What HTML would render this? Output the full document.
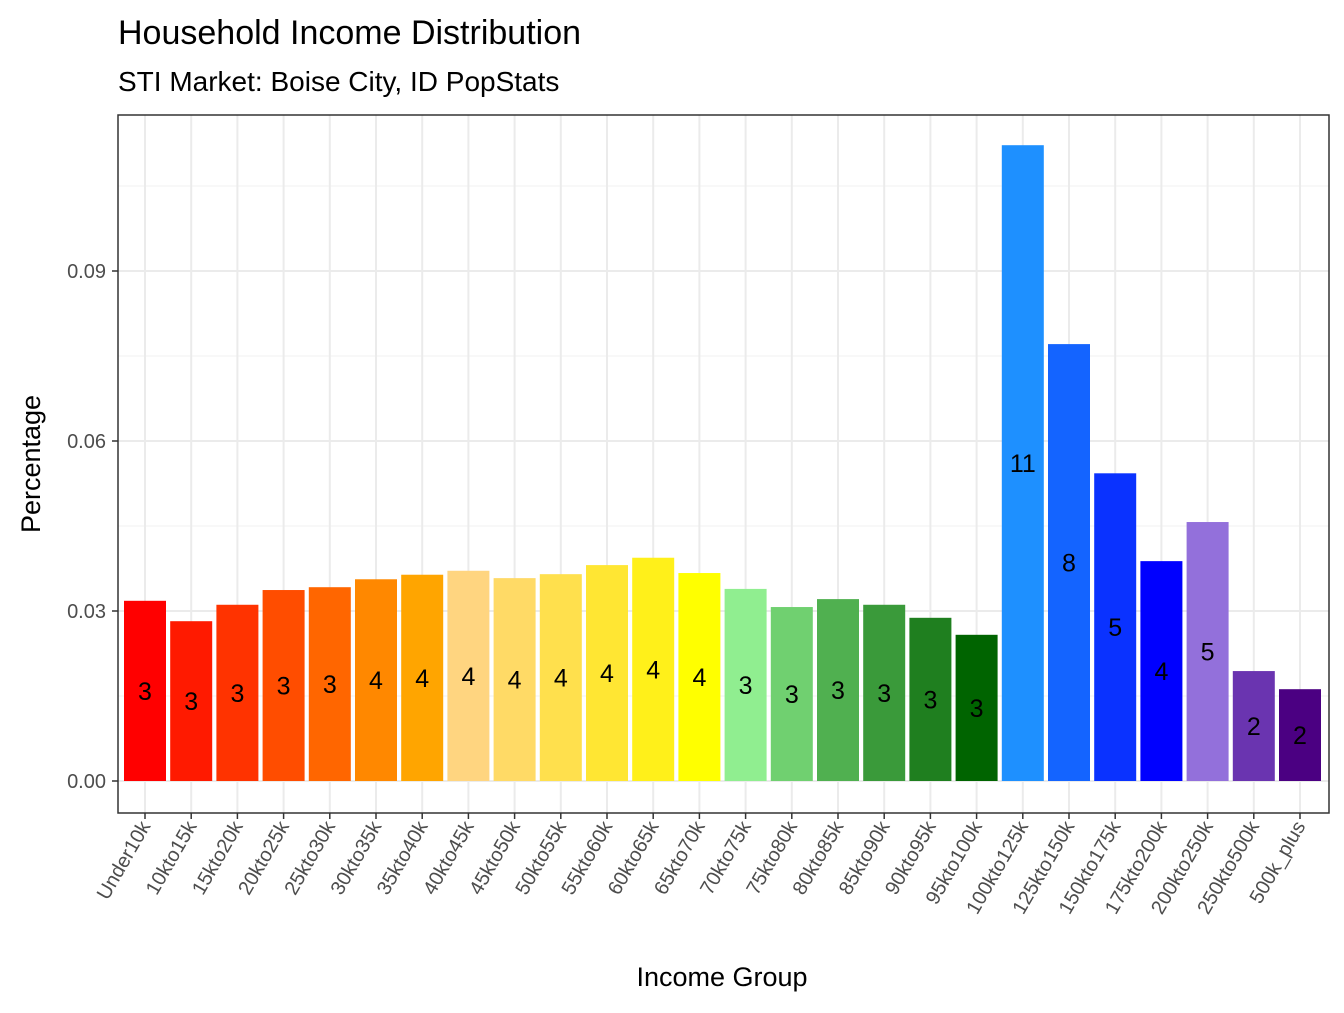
<!DOCTYPE html>
<html><head><meta charset="utf-8"><style>
body{margin:0;background:#fff;font-family:"Liberation Sans",Arial,sans-serif}
svg text{font-family:"Liberation Sans",Arial,sans-serif}
</style></head><body>
<svg id="chart" width="1344" height="1008" viewBox="0 0 1344 1008">
<rect width="1344" height="1008" fill="#fff"/>
<text x="118" y="44" font-size="34" fill="#000">Household Income Distribution</text>
<text x="118" y="91" font-size="28" fill="#000">STI Market: Boise City, ID PopStats</text>
<g id="grid"></g>
<g id="bars"></g>
<g id="labels"></g>
<rect x="118" y="115" width="1211" height="698" fill="none" stroke="#333" stroke-width="1.5"/>
<g id="axes"></g>
<text x="722" y="986" font-size="27" text-anchor="middle" fill="#000">Income Group</text>
<text transform="translate(40,464) rotate(-90)" font-size="27" text-anchor="middle" fill="#000">Percentage</text>
</svg>
<script>
const categories=["Under10k","10kto15k","15kto20k","20kto25k","25kto30k","30kto35k","35kto40k","40kto45k","45kto50k","50kto55k","55kto60k","60kto65k","65kto70k","70kto75k","75kto80k","80kto85k","85kto90k","90kto95k","95kto100k","100kto125k","125kto150k","150kto175k","175kto200k","200kto250k","250kto500k","500k_plus"];
const values=[0.0318,0.0282,0.0311,0.0337,0.0342,0.0356,0.0364,0.0371,0.0358,0.0365,0.0381,0.0394,0.0367,0.0339,0.0307,0.0321,0.0311,0.0288,0.0258,0.1122,0.0771,0.0543,0.0388,0.0457,0.0194,0.0162];
const colors=["#FF0000","#FF1A00","#FF3300","#FF4D00","#FF6600","#FF8800","#FFA500","#FFD580","#FFDA66","#FFE04D","#FFE633","#FFF01A","#FFFF00","#90EE90","#70D070","#50B050","#3A9A3A","#1F7F1F","#006400","#1E90FF","#1464FF","#0A32FF","#0000FF","#9370DB","#6A34B0","#4B0082"];
const yTicks=[0,0.03,0.06,0.09];
const yTickLabels=["0.00","0.03","0.06","0.09"];
const yMinor=[0.015,0.045,0.075,0.105];
const NS="http://www.w3.org/2000/svg";
const x0=145,step=(1300-145)/25,bw=42;
const xs=i=>x0+i*step;
const ys=v=>781-v*(170/0.03);
function mk(tag,attrs,parent){const e=document.createElementNS(NS,tag);for(const k in attrs)e.setAttribute(k,attrs[k]);parent.appendChild(e);return e;}
const grid=document.getElementById('grid'),bars=document.getElementById('bars'),labels=document.getElementById('labels'),axes=document.getElementById('axes');
yMinor.forEach(v=>{const l=mk('line',{x1:118,x2:1329,y1:ys(v),y2:ys(v),stroke:'#f2f2f2','stroke-width':1},grid);

});
yTicks.forEach((v,i)=>{const l=mk('line',{x1:118,x2:1329,y1:ys(v),y2:ys(v),stroke:'#ebebeb','stroke-width':2},grid);


const t=mk('line',{x1:112,x2:118,y1:ys(v),y2:ys(v),stroke:'#333','stroke-width':1.5},axes);


const tx=mk('text',{x:106,y:ys(v)+7,'font-size':20,'text-anchor':'end',fill:'#4d4d4d'},axes);
tx.textContent=yTickLabels[i];

});
categories.forEach((c,i)=>{const x=xs(i);
const g=mk('line',{x1:x,x2:x,y1:115,y2:813,stroke:'#ebebeb','stroke-width':2},grid);


const r=mk('rect',{x:x-bw/2,y:ys(values[i]),width:bw,height:ys(0)-ys(values[i]),fill:colors[i]},bars);


const lt=mk('text',{x:x,y:ys(values[i]/2)+9,'font-size':25,'text-anchor':'middle',fill:'#000'},labels);
lt.textContent=Math.round(values[i]*100);


const t=mk('line',{x1:x,x2:x,y1:813,y2:819,stroke:'#333','stroke-width':1.5},axes);


const tx=mk('text',{transform:`translate(${x+6},${826}) rotate(-60)`,'font-size':20,'text-anchor':'end',fill:'#4d4d4d'},axes);
tx.textContent=c;

});
</script>
</body></html>
